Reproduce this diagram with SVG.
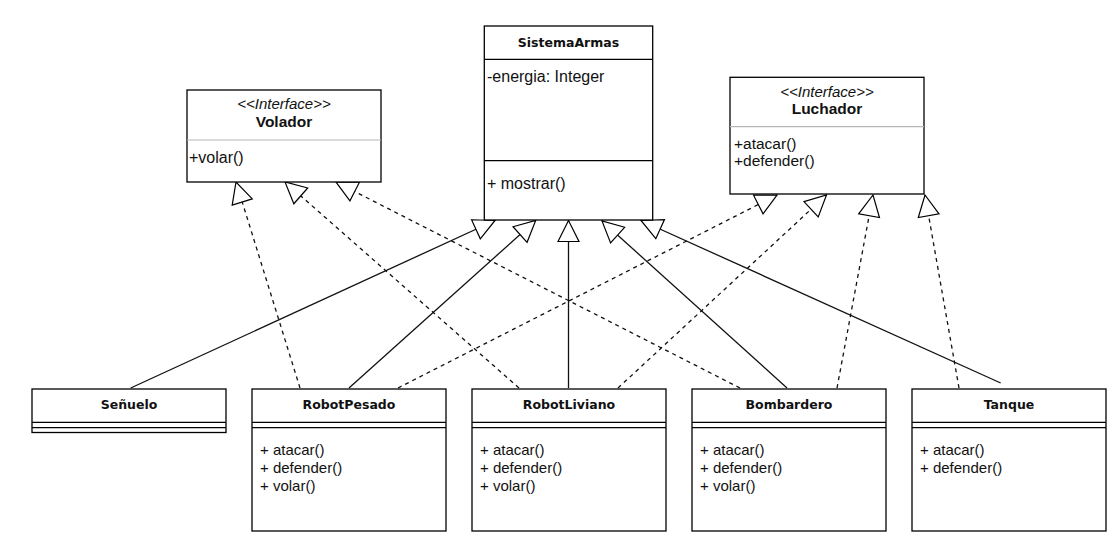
<svg xmlns="http://www.w3.org/2000/svg" width="1115" height="540" viewBox="0 0 1115 540">
  <defs>
    <!-- hollow triangle head used for generalization / realization -->
    <marker id="hollow" markerUnits="userSpaceOnUse" markerWidth="24" markerHeight="24" refX="21" refY="10.5" orient="auto" overflow="visible">
      <path d="M0,0 L21,10.5 L0,21 Z" fill="#fff" stroke="#000" stroke-width="1.2" stroke-linejoin="miter"/>
    </marker>
  </defs>
  <style>
    .box { fill: #fff; stroke: #000; stroke-width: 1.3; }
    .sep { stroke: #000; stroke-width: 1.3; }
    .sep-light { stroke: #b8b8b8; stroke-width: 1.2; }
    .txt { font-family: "Liberation Sans", Arial, sans-serif; font-size: 15px; fill: #111; }
    .txt-l { font-family: "Liberation Sans", Arial, sans-serif; font-size: 16px; fill: #111; }
    .txt-m { font-family: "Liberation Sans", Arial, sans-serif; font-size: 15.5px; fill: #111; }
    .stereo { font-family: "Liberation Sans", Arial, sans-serif; font-size: 15px; font-style: italic; fill: #111; }
    .ititle { font-family: "Liberation Sans", Arial, sans-serif; font-size: 15.5px; font-weight: bold; fill: #111; }
    .ctitle { font-family: "DejaVu Sans", Verdana, sans-serif; font-size: 12.5px; font-weight: bold; fill: #111; }
    .solid { fill: none; stroke: #111; stroke-width: 1.3; marker-end: url(#hollow); }
    .dashed { fill: none; stroke: #111; stroke-width: 1.3; stroke-dasharray: 4 4; marker-end: url(#hollow); }
  </style>
  <rect width="1115" height="540" fill="#fff"/>

  <!-- connectors -->
  <g id="connectors">
    <!-- realizations of Volador -->
    <line class="dashed" x1="300" y1="388" x2="236" y2="182"/>
    <line class="dashed" x1="519" y1="388" x2="285" y2="182"/>
    <line class="dashed" x1="740" y1="388" x2="336" y2="182"/>
    <!-- realizations of Luchador -->
    <line class="dashed" x1="398" y1="388" x2="777" y2="195"/>
    <line class="dashed" x1="618" y1="388" x2="826.5" y2="195"/>
    <line class="dashed" x1="837" y1="388" x2="873" y2="195"/>
    <line class="dashed" x1="959" y1="388" x2="925" y2="195"/>
    <!-- generalizations to SistemaArmas -->
    <line class="solid" x1="130.7" y1="388" x2="495" y2="220.5"/>
    <line class="solid" x1="349" y1="388" x2="535.7" y2="220.5"/>
    <line class="solid" x1="568.5" y1="388" x2="568.5" y2="220.5"/>
    <line class="solid" x1="787" y1="388" x2="602" y2="221"/>
    <line class="solid" x1="1000.7" y1="383" x2="641" y2="220.5"/>
  </g>

  <!-- interface Volador -->
  <g id="volador">
    <rect class="box" x="187" y="90" width="194" height="92"/>
    <line class="sep-light" x1="187" y1="140" x2="381" y2="140"/>
    <text class="stereo" x="284" y="109" text-anchor="middle">&lt;&lt;Interface&gt;&gt;</text>
    <text class="ititle" x="284" y="127" text-anchor="middle">Volador</text>
    <text class="txt-l" x="189" y="163">+volar()</text>
  </g>

  <!-- class SistemaArmas -->
  <g id="sistemaArmas">
    <rect class="box" x="484.3" y="26" width="168.4" height="194"/>
    <line class="sep" x1="484.3" y1="59.3" x2="652.7" y2="59.3"/>
    <line class="sep" x1="484.3" y1="160.7" x2="652.7" y2="160.7"/>
    <text class="ctitle" x="568.5" y="46.5" text-anchor="middle">SistemaArmas</text>
    <text class="txt-l" x="487" y="82">-energia: Integer</text>
    <text class="txt-l" x="487" y="189">+ mostrar()</text>
  </g>

  <!-- interface Luchador -->
  <g id="luchador">
    <rect class="box" x="730" y="77.3" width="194" height="116.7"/>
    <line class="sep-light" x1="730" y1="126.7" x2="924" y2="126.7"/>
    <text class="stereo" x="827" y="96.5" text-anchor="middle">&lt;&lt;Interface&gt;&gt;</text>
    <text class="ititle" x="827" y="114" text-anchor="middle">Luchador</text>
    <text class="txt-m" x="734" y="148.5">+atacar()</text>
    <text class="txt-m" x="734" y="165.5">+defender()</text>
  </g>

  <!-- class Señuelo -->
  <g id="senuelo">
    <rect class="box" x="32" y="389" width="194" height="43.5"/>
    <line class="sep" x1="32" y1="422.3" x2="226" y2="422.3"/>
    <line class="sep" x1="32" y1="427.7" x2="226" y2="427.7"/>
    <text class="ctitle" x="129" y="408.5" text-anchor="middle">Señuelo</text>
  </g>

  <!-- class RobotPesado -->
  <g id="robotPesado">
    <rect class="box" x="252" y="389" width="194" height="142"/>
    <line class="sep" x1="252" y1="422.3" x2="446" y2="422.3"/>
    <line class="sep" x1="252" y1="427.7" x2="446" y2="427.7"/>
    <text class="ctitle" x="349" y="408.5" text-anchor="middle">RobotPesado</text>
    <text class="txt" x="260" y="455">+ atacar()</text>
    <text class="txt" x="260" y="473">+ defender()</text>
    <text class="txt" x="260" y="491">+ volar()</text>
  </g>

  <!-- class RobotLiviano -->
  <g id="robotLiviano">
    <rect class="box" x="472" y="389" width="194" height="142"/>
    <line class="sep" x1="472" y1="422.3" x2="666" y2="422.3"/>
    <line class="sep" x1="472" y1="427.7" x2="666" y2="427.7"/>
    <text class="ctitle" x="569" y="408.5" text-anchor="middle">RobotLiviano</text>
    <text class="txt" x="480" y="455">+ atacar()</text>
    <text class="txt" x="480" y="473">+ defender()</text>
    <text class="txt" x="480" y="491">+ volar()</text>
  </g>

  <!-- class Bombardero -->
  <g id="bombardero">
    <rect class="box" x="692" y="389" width="194" height="142"/>
    <line class="sep" x1="692" y1="422.3" x2="886" y2="422.3"/>
    <line class="sep" x1="692" y1="427.7" x2="886" y2="427.7"/>
    <text class="ctitle" x="789" y="408.5" text-anchor="middle">Bombardero</text>
    <text class="txt" x="700" y="455">+ atacar()</text>
    <text class="txt" x="700" y="473">+ defender()</text>
    <text class="txt" x="700" y="491">+ volar()</text>
  </g>

  <!-- class Tanque -->
  <g id="tanque">
    <rect class="box" x="912" y="389" width="194" height="142"/>
    <line class="sep" x1="912" y1="422.3" x2="1106" y2="422.3"/>
    <line class="sep" x1="912" y1="427.7" x2="1106" y2="427.7"/>
    <text class="ctitle" x="1009" y="408.5" text-anchor="middle">Tanque</text>
    <text class="txt" x="920" y="455">+ atacar()</text>
    <text class="txt" x="920" y="473">+ defender()</text>
  </g>
</svg>
